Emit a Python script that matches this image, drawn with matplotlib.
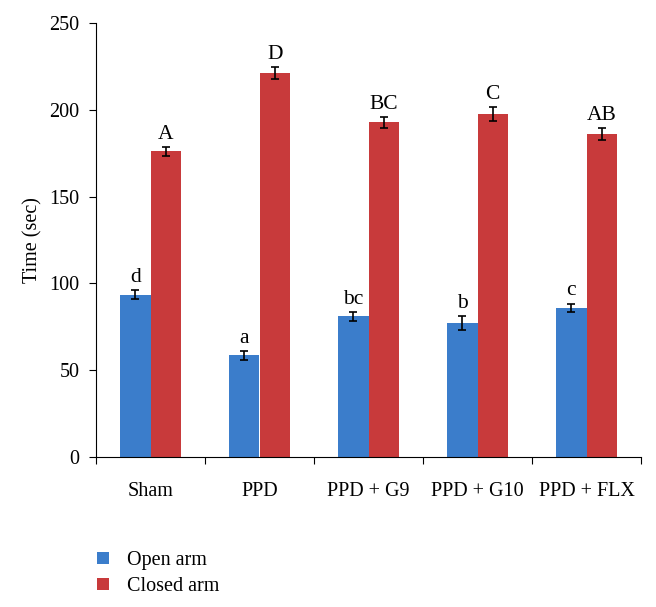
import numpy as np
import matplotlib
matplotlib.use('Agg')
import matplotlib.pyplot as plt
from matplotlib.patches import Patch

plt.rcParams['font.family'] = ['Liberation Serif', 'DejaVu Serif']

groups = ['Sham', 'PPD', 'PPD + G9', 'PPD + G10', 'PPD + FLX']
open_arm = [93.5, 58.5, 81.0, 77.0, 85.8]
open_err = [2.5, 2.5, 2.5, 4.0, 2.5]
closed_arm = [176.0, 221.0, 192.8, 197.6, 186.0]
closed_err = [2.5, 3.5, 3.0, 4.0, 3.5]
open_lbl = ['d', 'a', 'bc', 'b', 'c']
closed_lbl = ['A', 'D', 'BC', 'C', 'AB']

blue = '#3b7dcb'
red = '#c83a3b'

fig = plt.figure(figsize=(6.56, 6.07), dpi=100)
ax = fig.add_axes([96/656, 1-457/607, 545/656, 434/607])

x = np.arange(len(groups)) + 0.5
w = 0.28
ax.bar(x - w/2, open_arm, w, color=blue, yerr=open_err,
       error_kw=dict(ecolor='black', capsize=3, elinewidth=1.2, capthick=1.2),
       label='Open arm', zorder=2)
ax.bar(x + w/2, closed_arm, w, color=red, yerr=closed_err,
       error_kw=dict(ecolor='black', capsize=3, elinewidth=1.2, capthick=1.2),
       label='Closed arm', zorder=2)

for i in range(len(groups)):
    ax.text(x[i] - w/2, open_arm[i] + open_err[i] + 2, open_lbl[i],
            ha='center', va='bottom', fontsize=15.5)
    ax.text(x[i] + w/2, closed_arm[i] + closed_err[i] + 2, closed_lbl[i],
            ha='center', va='bottom', fontsize=15.5)

ax.set_xlim(0, len(groups))
ax.set_ylim(0, 250)
ax.set_yticks(np.arange(0, 251, 50))
ax.set_xticks(np.arange(0, len(groups) + 1))
ax.set_xticklabels([])
ax.set_xticks(x, minor=True)
ax.set_xticklabels(groups, minor=True, fontsize=14.5)
ax.tick_params(axis='x', which='minor', length=0, pad=18)
ax.tick_params(axis='x', which='major', length=5, direction='out')
ax.tick_params(axis='y', length=5, direction='out', labelsize=14.5, pad=7)
ax.set_ylabel('Time (sec)', fontsize=14.5, labelpad=5)

for s in ['top', 'right']:
    ax.spines[s].set_visible(False)

handles = [Patch(facecolor=blue, label='Open arm'),
           Patch(facecolor=red, label='Closed arm')]
fig.legend(handles=handles, loc='lower left', bbox_to_anchor=(0.12, -0.012),
           frameon=False, fontsize=14.5, handlelength=0.6, handleheight=0.6,
           handletextpad=0.9, labelspacing=0.35)

plt.savefig('out.png', dpi=100)
